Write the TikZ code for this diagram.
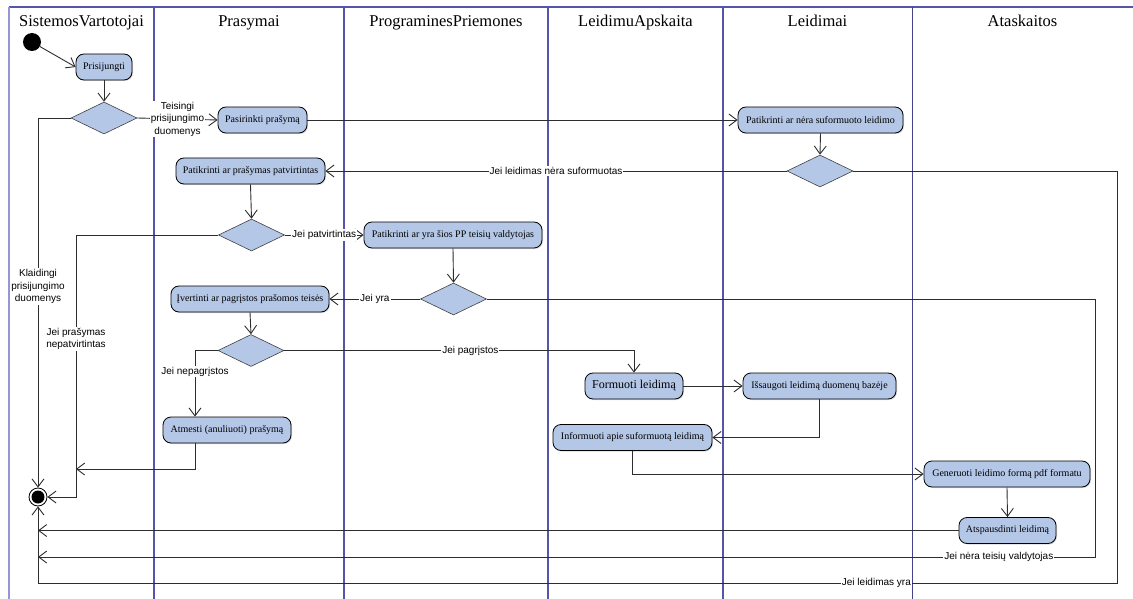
\documentclass[tikz,border=0pt]{standalone}
\usepackage{fontspec}
\setmainfont{Liberation Serif}
\newfontfamily\lblfont{Liberation Sans}
\usetikzlibrary{arrows.meta,shapes.geometric,shadows}

\definecolor{actfill}{RGB}{180,199,231}
\definecolor{lanecol}{RGB}{85,85,170}
\definecolor{laneedge}{RGB}{150,150,215}
\definecolor{flowcol}{RGB}{45,45,45}

\begin{document}
\begin{tikzpicture}[x=1pt,y=-1pt,
  lane/.style={draw=lanecol,line width=1.4pt},
  activity/.style={rounded corners=8pt,draw=black,line width=0.8pt,fill=actfill,
    minimum height=26pt,inner sep=0pt,font=\fontsize{10}{12}\selectfont,
    drop shadow={shadow xshift=1pt,shadow yshift=-1pt,fill=black!30}},
  decision/.style={diamond,draw=black!75,line width=0.6pt,fill=actfill,
    minimum width=66pt,minimum height=32pt,inner sep=0pt},
  flow/.style={draw=flowcol,line width=0.9pt},
  arr/.style={flow,-{Straight Barb[length=8pt,width=12pt,line width=0.9pt]}},
  lbl/.style={fill=white,inner sep=1pt,font=\lblfont\fontsize{10}{12.5}\selectfont,
    align=center,text=black},
  lanetitle/.style={font=\fontsize{16.5}{19}\selectfont,anchor=base}]

\useasboundingbox (0,0) rectangle (1133,599);

% swimlanes
\draw[lane] (9,7) -- (1133,7);
\draw[draw=laneedge,line width=1.4pt] (9,7) -- (9,599);
\foreach \lx in {154,344,548,723} \draw[lane] (\lx,7) -- (\lx,599);
\draw[draw=lanecol!80!black,line width=1pt] (912,7) -- (912,599);

\node[lanetitle] (t1) at (81.5,27) {SistemosVartotojai};
\node[lanetitle] (t2) at (249,27) {Prasymai};
\node[lanetitle] (t3) at (446,27) {Programines\-Priemones};
\node[lanetitle] (t4) at (635.5,27) {LeidimuApskaita};
\node[lanetitle] (t5) at (817.5,27) {Leidimai};
\node[lanetitle] (t6) at (1022.5,27) {Ataskaitos};

% initial and final nodes
\node[circle,fill=black,minimum size=18pt,inner sep=0pt] (start) at (32,42) {};
\node[circle,draw=black,line width=0.8pt,fill=white,minimum size=18pt,inner sep=0pt] (final) at (38,497) {};
\fill[black] (final.center) circle (6.5pt);

% activities
\node[activity,minimum width=56pt]  (prisijungti) at (104,67)    {Prisijungti};
\node[activity,minimum width=89pt]  (pasirinkti)  at (262.5,120) {Pasirinkti prašymą};
\node[activity,minimum width=165pt] (patnera)     at (820.5,120) {Patikrinti ar nėra suformuoto leidimo};
\node[activity,minimum width=149pt] (patpatv)     at (250.5,171) {Patikrinti ar prašymas patvirtintas};
\node[activity,minimum width=178pt] (pp)          at (453,235)   {Patikrinti ar yra šios PP teisių valdytojas};
\node[activity,minimum width=158pt] (ivert)       at (250,299)   {Įvertinti ar pagrįstos prašomos teisės};
\node[activity,minimum width=98pt,font=\fontsize{12}{14}\selectfont] (formuoti) at (634,386) {Formuoti leidimą};
\node[activity,minimum width=153pt] (issaugoti)   at (819.5,386) {Išsaugoti leidimą duomenų bazėje};
\node[activity,minimum width=159pt] (informuoti)  at (632.5,437.5) {Informuoti apie suformuotą leidimą};
\node[activity,minimum width=166pt] (generuoti)   at (1007,474)  {Generuoti leidimo formą pdf formatu};
\node[activity,minimum width=97pt]  (atspausd)    at (1007.5,530.5) {Atspausdinti leidimą};
\node[activity,minimum width=128pt] (atmesti)     at (227,430)   {Atmesti (anuliuoti) prašymą};

% decisions
\node[decision] (d1) at (104,118)   {};
\node[decision] (d2) at (820,171)   {};
\node[decision] (d3) at (251.5,235) {};
\node[decision] (d4) at (453.5,299) {};
\node[decision] (d5) at (251,350.5) {};

% bend points of the long return flows
\coordinate (k2) at (1117,583);
\coordinate (k3) at (76,497);
\coordinate (k3b) at (76,469);
\coordinate (k4) at (1095,557);
\coordinate (m4) at (38,557);

% flows
\draw[arr] (start) -- (prisijungti.west);
\draw[arr] (prisijungti.south) -- (d1.north);
\draw[arr] (d1.east) -- node[lbl]{Teisingi\\prisijungimo\\duomenys} (pasirinkti.west);
\draw[arr] (d1.west) -| node[lbl,pos=0.728]{Klaidingi\\prisijungimo\\duomenys} (final.north);
\draw[arr] (pasirinkti.east) -- (patnera.west);
\draw[arr] (patnera.south) -- (d2.north);
\draw[arr] (d2.west) -- node[lbl]{Jei leidimas nėra suformuotas} (patpatv.east);
\draw[arr] (d2.east) -| (k2) -- node[lbl,pos=0.223]{Jei leidimas yra} (k2 -| final) -- (final.south);
\draw[arr] (patpatv.south) -- (d3.north);
\draw[arr] (d3.east) -- node[lbl]{Jei patvirtintas} (pp.west);
\draw[arr] (d3.west) -| node[lbl,pos=0.698]{Jei prašymas\\nepatvirtintas} (k3) -- (final.east);
\draw[arr] (pp.south) -- (d4.north);
\draw[arr] (d4.west) -- node[lbl]{Jei yra} (ivert.east);
\draw[arr] (d4.east) -| (k4) -- node[lbl,pos=0.091]{Jei nėra teisių valdytojas} (m4);
\draw[arr] (ivert.south) -- (d5.north);
\draw[arr] (d5.west) -| node[lbl,pos=0.66]{Jei nepagrįstos} ([xshift=-32pt]atmesti.north);
\draw[arr] (d5.east) -| node[lbl,pos=0.266]{Jei pagrįstos} (formuoti.north);
\draw[arr] ([xshift=-32pt]atmesti.south) |- (k3b);
\draw[arr] (formuoti.east) -- (issaugoti.west);
\draw[arr] (issaugoti.south) |- (informuoti.east);
\draw[arr] (informuoti.south) |- (generuoti.west);
\draw[arr] (generuoti.south) -- (atspausd.north);
\draw[arr] (atspausd.west) -- (atspausd.west -| final);

\end{tikzpicture}
\end{document}
